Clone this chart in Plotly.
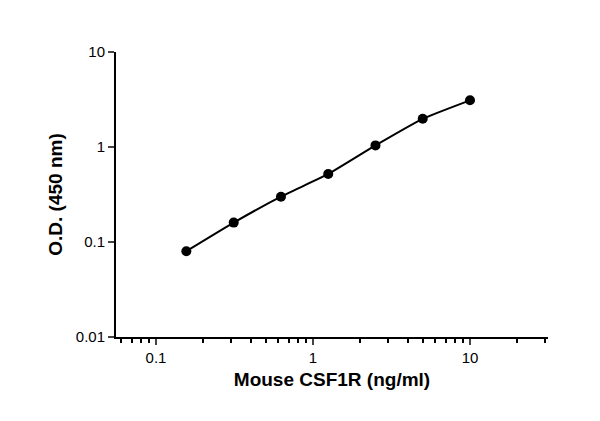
import plotly.graph_objects as go
import numpy as np

conc = [0.156, 0.3125, 0.625, 1.25, 2.5, 5, 10]
od = [0.08, 0.16, 0.30, 0.52, 1.04, 1.98, 3.1]

fig = go.Figure()
fig.add_trace(go.Scatter(x=conc, y=od, mode="lines", line=dict(color="black", width=2, shape="spline", smoothing=0.5), showlegend=False))
fig.add_trace(go.Scatter(x=conc, y=od, mode="markers", marker=dict(color="black", size=10), showlegend=False))

fig.update_layout(
    width=600, height=421, plot_bgcolor="white", paper_bgcolor="white",
    margin=dict(l=108, r=60, t=44, b=92, autoexpand=False),
    font=dict(family="Liberation Sans, Arial", color="black"),
    xaxis=dict(type="log", range=[np.log10(0.0556), np.log10(31.4)], showgrid=False, zeroline=False, automargin=False,
               showline=True, linecolor="black", linewidth=2, ticks="outside", ticklen=6, tickwidth=2,
               tickvals=[0.1, 1, 10], ticktext=["0.1", "1", "10"], tickfont=dict(size=15),
               minor=dict(ticks="outside", ticklen=4, tickwidth=1.5, tickcolor="black",
                          tickvals=[0.06,0.07,0.08,0.09,0.2,0.3,0.4,0.5,0.6,0.7,0.8,0.9,2,3,4,5,6,7,8,9,20,30]),
               title=dict(text="<b>Mouse CSF1R (ng/ml)</b>", font=dict(size=19), standoff=8)),
    yaxis=dict(type="log", range=[-2, 1], showgrid=False, zeroline=False, automargin=False,
               showline=True, linecolor="black", linewidth=2, ticks="outside", ticklen=6, tickwidth=2,
               tickvals=[0.01, 0.1, 1, 10], ticktext=["0.01", "0.1", "1", "10"], tickfont=dict(size=15),
               title=dict(text="<b>O.D. (450 nm)</b>", font=dict(size=19), standoff=8)),
)
fig.write_html("out.html")
